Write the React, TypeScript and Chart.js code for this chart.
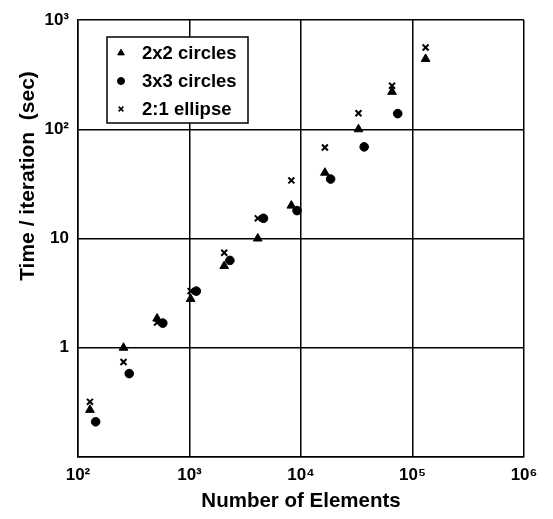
import React, { useEffect, useRef } from 'react';
import { Chart, registerables } from 'chart.js';
import { drawPoint } from 'chart.js/helpers';

Chart.register(...registerables);

const seriesLabels = ['2x2 circles', '3x3 circles', '2:1 ellipse'];
const seriesStyles = ['triangle', 'circle', 'crossRot'];
const elemsPow2 = [128, 256, 512, 1024, 2048, 4096, 8192, 16384, 32768, 65536, 131072];
const elems3x3 = [144, 288, 576, 1152, 2304, 4608, 9216, 18432, 36864, 73728];
const time2x2 = [0.27, 1.0, 1.85, 2.8, 5.6, 10, 20, 40, 100, 220, 440];
const time3x3 = [0.21, 0.58, 1.68, 3.3, 6.3, 15.3, 18, 35, 69, 139];
const timeEllipse = [0.32, 0.74, 1.7, 3.3, 7.4, 15.3, 34, 68, 140, 250, 560];
const xTickValues = [100, 1000, 10000, 100000, 1000000];
const xTickLabels = ['10²', '10³', '10⁴', '10⁵', '10⁶'];
const yTickValues = [0.1, 1, 10, 100, 1000];
const yTickLabels = ['', '1', '10', '10²', '10³'];
const xTitle = 'Number of Elements';
const yTitle = 'Time / iteration  (sec)';

const FONT = "'Liberation Sans', Arial, Helvetica, sans-serif";

const toPoints = (xs: number[], ys: number[]) => xs.map((x, i) => ({ x, y: ys[i] }));

const extrasPlugin = {
  id: 'extras',
  afterDatasetsDraw(chart: any) {
    const ctx = chart.ctx;
    const ca = chart.chartArea;
    // legend box
    const bx = ca.left + 29;
    const by = ca.top + 17;
    const bw = 141;
    const bh = 86;
    ctx.save();
    ctx.fillStyle = '#fff';
    ctx.fillRect(bx, by, bw, bh);
    ctx.strokeStyle = '#000';
    ctx.lineWidth = 1.5;
    ctx.strokeRect(bx, by, bw, bh);
    const rows = [16, 44, 72];
    chart.data.datasets.forEach((ds: any, i: number) => {
      const y = by + rows[i];
      ctx.fillStyle = '#000';
      ctx.strokeStyle = '#000';
      ctx.lineWidth = ds.pointStyle === 'crossRot' ? 1.6 : 1;
      drawPoint(ctx, {
        pointStyle: ds.pointStyle,
        radius: ds.pointStyle === 'triangle' ? 3.8 : ds.pointStyle === 'circle' ? 3.5 : 3.4,
        rotation: 0,
        borderWidth: ctx.lineWidth,
      } as any, bx + 14, y);
      ctx.fillStyle = '#000';
      ctx.font = `bold 18.5px ${FONT}`;
      ctx.textAlign = 'left';
      ctx.textBaseline = 'middle';
      ctx.fillText(ds.label, bx + 35, y + 1);
    });
    ctx.restore();
  },
  afterDraw(chart: any) {
    const ctx = chart.ctx;
    ctx.save();
    ctx.translate(34, 176);
    ctx.rotate(-Math.PI / 2);
    ctx.fillStyle = '#000';
    ctx.font = `bold 21px ${FONT}`;
    ctx.textAlign = 'center';
    ctx.textBaseline = 'alphabetic';
    ctx.fillText(yTitle, 0, 0);
    ctx.restore();
  },
};

export default function App() {
  const ref = useRef<HTMLCanvasElement | null>(null);
  useEffect(() => {
    if (!ref.current) return;
    const mk = (label: string, style: string, xs: number[], ys: number[], radius: number, bw: number) => ({
      label,
      data: toPoints(xs, ys),
      pointStyle: style,
      pointRadius: radius,
      pointHoverRadius: radius,
      pointBorderWidth: bw,
      backgroundColor: '#000',
      borderColor: '#000',
      showLine: false,
    });
    const chart = new Chart(ref.current, {
      type: 'scatter',
      data: {
        datasets: [
          mk(seriesLabels[0], seriesStyles[0], elemsPow2, time2x2, 5, 1),
          mk(seriesLabels[1], seriesStyles[1], elems3x3, time3x3, 4.3, 1),
          mk(seriesLabels[2], seriesStyles[2], elemsPow2, timeEllipse, 4.2, 2),
        ] as any,
      },
      options: {
        responsive: false,
        animation: false,
        devicePixelRatio: 1,
        layout: { padding: { left: 0, top: 20, right: 29, bottom: 0 } },
        plugins: { legend: { display: false }, tooltip: { enabled: false } },
        scales: {
          x: {
            type: 'logarithmic',
            min: 100,
            max: 1000000,
            afterBuildTicks: (s: any) => { s.ticks = xTickValues.map((v) => ({ value: v })); },
            afterFit: (s: any) => { s.height = 62; },
            grid: { color: '#000', lineWidth: 1.5, drawTicks: false },
            border: { display: true, color: '#000', width: 1.5 },
            ticks: {
              color: '#000',
              padding: 8,
              maxRotation: 0,
              autoSkip: false,
              font: { family: FONT, size: 17, weight: 'bold' },
              callback: (v: any) => { const i = xTickValues.indexOf(Number(v)); return i >= 0 ? xTickLabels[i] : ''; },
            },
            title: {
              display: true,
              text: xTitle,
              color: '#000',
              font: { family: FONT, size: 20.5, weight: 'bold' },
              padding: { top: 0, bottom: 5 },
            },
          },
          y: {
            type: 'logarithmic',
            min: 0.1,
            max: 1000,
            afterBuildTicks: (s: any) => { s.ticks = yTickValues.map((v) => ({ value: v })); },
            afterFit: (s: any) => { s.width = 78; },
            grid: { color: '#000', lineWidth: 1.5, drawTicks: false },
            border: { display: true, color: '#000', width: 1.5 },
            ticks: {
              color: '#000',
              padding: 9,
              autoSkip: false,
              font: { family: FONT, size: 17, weight: 'bold' },
              callback: (v: any) => { const i = yTickValues.indexOf(Number(v)); return i >= 0 ? yTickLabels[i] : ''; },
            },
          },
        },
      } as any,
      plugins: [extrasPlugin as any],
    });
    return () => chart.destroy();
  }, []);
  return (
    <div style={{ position: 'fixed', left: 0, top: 0, width: 553, height: 519, background: '#fff' }}>
      <canvas ref={ref} width={553} height={519} style={{ display: 'block', width: 553, height: 519 }} />
    </div>
  );
}
